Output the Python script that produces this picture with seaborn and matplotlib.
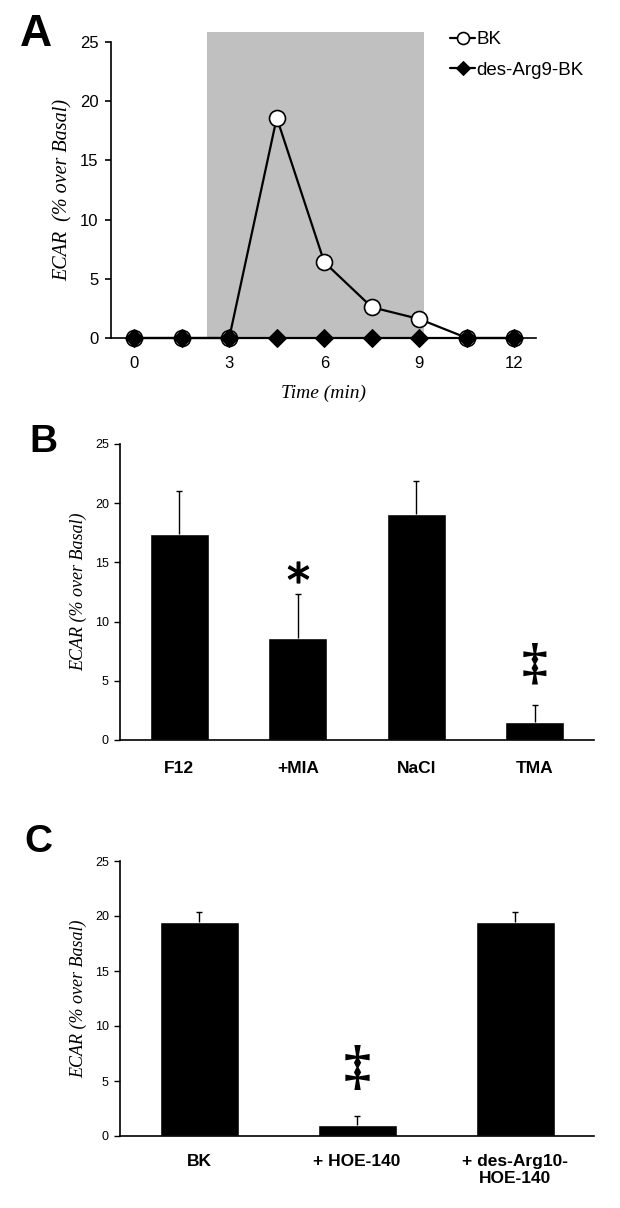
import numpy as np
import pandas as pd
import matplotlib
matplotlib.use("Agg")
import matplotlib.pyplot as plt
import seaborn as sns

# panel A: time course
time_min = [0, 1.5, 3, 4.5, 6, 7.5, 9, 10.5, 12]
bk_vals = [0, 0, 0, 18.6, 6.4, 2.6, 1.6, 0, 0]
desarg_vals = [0, 0, 0, 0, 0, 0, 0, 0, 0]
stim_window = [2.3, 9.15]

# panel B
b_cats = ["F12", "+MIA", "NaCl", "TMA"]
b_vals = [17.4, 8.6, 19.1, 1.5]
b_err = [3.6, 3.7, 2.8, 1.45]
b_star = [1, 14.2]
b_dagger = [3, 6.3]

# panel C
c_cats = ["BK", "+ HOE-140", "+ des-Arg10-\nHOE-140"]
c_vals = [19.5, 1.0, 19.5]
c_err = [0.85, 0.85, 0.85]
c_dagger = [1, 6.0]

sns.set_style("white")
plt.rcParams["font.family"] = ["Liberation Sans", "DejaVu Sans"]
plt.rcParams["axes.linewidth"] = 1.2
plt.rcParams["axes.edgecolor"] = "black"
for k in ["text.color", "axes.labelcolor", "xtick.color", "ytick.color"]:
    plt.rcParams[k] = "black"

fig = plt.figure(figsize=(6.2, 12.08), dpi=100)
W, H = 620, 1208
def box(l, t, r, b):
    return [l / W, 1 - b / H, (r - l) / W, (b - t) / H]

serif_it = dict(family="Liberation Serif", style="italic")

# ---- A ----
axA = fig.add_axes(box(111, 42, 536, 338))
axA.axvspan(stim_window[0], stim_window[1], ymin=0, ymax=1.035, color="#c0c0c0", lw=0, clip_on=False, zorder=0)
sns.lineplot(x=time_min, y=bk_vals, ax=axA, color="black", lw=1.6, marker="o", ms=11.5,
             mfc="white", mec="black", mew=1.2, label="BK", clip_on=False, zorder=3)
sns.lineplot(x=time_min, y=desarg_vals, ax=axA, color="black", lw=1.6, marker="D", ms=9,
             mfc="black", mec="black", label="des-Arg9-BK", clip_on=False, zorder=4)
axA.set_xlim(-0.73, 12.68)
axA.set_ylim(0, 25)
axA.set_xticks([0, 3, 6, 9, 12])
axA.set_yticks([0, 5, 10, 15, 20, 25])
axA.tick_params(axis="y", length=4, width=1.2, pad=5, labelsize=12, left=True)
axA.tick_params(axis="x", length=0, pad=13, labelsize=12)
sns.despine(ax=axA)
axA.set_xlabel("Time (min)", fontsize=14, labelpad=10, **serif_it)
axA.set_ylabel("ECAR  (% over Basal)", fontsize=14.5, **serif_it)
axA.yaxis.label.set_va("center")
axA.yaxis.set_label_coords((63 - 111) / 425, 0.5)
axA.legend(loc="upper left", bbox_to_anchor=(441 / W, 1 - 22 / H), bbox_transform=fig.transFigure,
           frameon=False, fontsize=13.5, handlelength=1.3, handletextpad=0.1,
           markerscale=0.75, labelspacing=0.7, borderpad=0)
fig.text(36 / W, 1 - 34 / H, "A", fontsize=32, fontweight="bold", ha="center", va="center")

def bar_panel(ax, cats, vals, errs):
    sns.barplot(x=cats, y=vals, ax=ax, color="black", saturation=1, width=0.5, errorbar=None)
    eb = ax.errorbar(range(len(vals)), vals, yerr=[np.zeros(len(vals)), errs], fmt="none",
                     ecolor="black", elinewidth=1, capsize=2, capthick=1)
    eb[1][0].set_visible(False)
    ax.set_xlim(-0.5, len(cats) - 0.5)
    ax.set_ylim(0, 25)
    ax.set_yticks([0, 5, 10, 15, 20, 25])
    ax.tick_params(axis="y", length=4, width=1, pad=4, labelsize=9, left=True)
    ax.tick_params(axis="x", length=0, pad=15)
    for t in ax.get_xticklabels():
        t.set_fontweight("bold")
        t.set_fontsize(12.5)
    sns.despine(ax=ax)
    ax.set_ylabel("ECAR (% over Basal)", fontsize=13, **serif_it)
    ax.yaxis.label.set_va("center")
    ax.yaxis.set_label_coords((79 - 120) / 474, 0.5)

def mark(ax, pos, s, size):
    ax.text(pos[0], pos[1], s, fontsize=size, family="Liberation Serif", fontweight="bold",
            ha="center", va="center")

# ---- B ----
axB = fig.add_axes(box(120, 444, 594, 740))
bar_panel(axB, b_cats, b_vals, b_err)
axB.plot(b_star[0], b_star[1], marker="$*$", ms=15, color="black", ls="none")
mark(axB, b_dagger, "‡", 37)
fig.text(43 / W, 1 - 442 / H, "B", fontsize=28, fontweight="bold", ha="center", va="center")

# ---- C ----
axC = fig.add_axes(box(120, 861, 594, 1136))
bar_panel(axC, c_cats, c_vals, c_err)
axC.tick_params(axis="x", pad=13)
mark(axC, c_dagger, "‡", 39)
fig.text(38 / W, 1 - 842 / H, "C", fontsize=28, fontweight="bold", ha="center", va="center")

fig.savefig("out.png", dpi=100)
